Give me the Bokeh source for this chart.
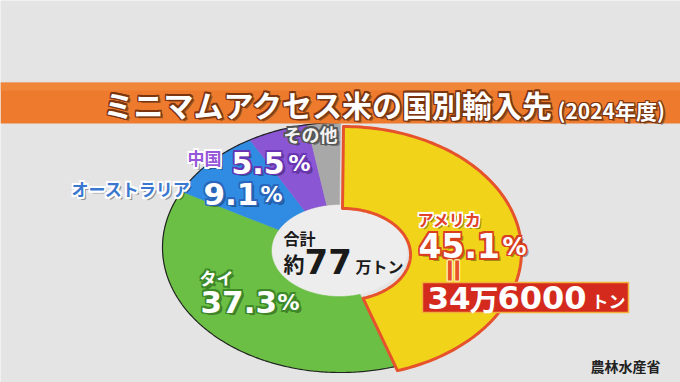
import numpy as np
from bokeh.plotting import figure
from bokeh.models import Range1d
from bokeh.core.properties import value
from bokeh.embed import file_html
from bokeh.resources import INLINE

# ---- data ----
countries = ["アメリカ", "タイ", "オーストラリア", "中国", "その他"]
shares = [45.1, 37.3, 9.1, 5.5, 3.0]
colors = ["#f1d31a", "#6cbf45", "#2f8ce2", "#8a56d3", "#a8a8a8"]
total_man_ton = 77
us_tonnes = 346000
title = "ミニマムアクセス米の国別輸入先"
year_label = "(2024年度)"
source = "農林水産省"

CJK = "Noto Sans CJK JP"
NUM = "DejaVu Sans"

p = figure(width=680, height=382, x_range=Range1d(0, 680), y_range=Range1d(382, 0),
           output_backend="svg", toolbar_location=None, min_border=0)
p.axis.visible = False
p.grid.visible = False
p.outline_line_color = None
p.background_fill_color = "#e4e4e4"
p.border_fill_color = "#e4e4e4"

# ---- donut geometry (layout) ----
cx, cy, rx, ry = 340, 247, 178, 125
hx, hy, hrx, hry = 339, 250, 68, 46
explode = (3, 4)

frac = np.array(shares) / np.sum(shares)
ends = np.cumsum(frac) * 2 * np.pi
starts = np.concatenate([[0], ends[:-1]])


def slice_xy(s, e, off=(0, 0)):
    t = np.linspace(s, e, 120)
    xo = cx + rx * np.sin(t)
    yo = cy - ry * np.cos(t)
    ti = t[::-1]
    xi = hx + hrx * np.sin(ti)
    yi = hy - hry * np.cos(ti)
    return list(np.concatenate([xo, xi]) + off[0]), list(np.concatenate([yo, yi]) + off[1])


# hole
p.ellipse(x=[hx], y=[hy], width=2 * hrx, height=2 * hry, fill_color="#ededed", line_color=None)

xs, ys = [], []
for i in range(1, len(shares)):
    x, y = slice_xy(starts[i], ends[i])
    xs.append(x)
    ys.append(y)
p.patches(xs=xs, ys=ys, fill_color=colors[1:], line_color=colors[1:], line_width=0.5)

t = np.linspace(ends[0], 2 * np.pi, 300)
p.line(x=cx + rx * np.sin(t), y=cy - ry * np.cos(t), line_color="#222222", line_width=1.2)

ux, uy = slice_xy(starts[0], ends[0], explode)
p.patch(x=ux, y=uy, fill_color=colors[0], line_color="#e6522b", line_width=3, line_join="round")

# ---- title bar ----
p.quad(left=[0], right=[680], top=[82], bottom=[123], fill_color="#ee7b2d", line_color=None)
p.quad(left=[0], right=[680], top=[82], bottom=[90], fill_color="#f28d42", line_color=None, fill_alpha=0.6)


def txt(x, y, s, size, font, color, align="left", baseline="middle", angle=0.0,
        dx=0.0, dy=0.0, alpha=1.0):
    p.text(x=[x], y=[y], text=[s], text_font=value(font), text_font_size=f"{size}px",
           text_font_style="bold", text_color=color, text_align=align,
           text_baseline=baseline, angle=angle, x_offset=dx, y_offset=dy, text_alpha=alpha)


def outlined(x, y, s, size, font, fill, stroke, sw=1.6, align="left", baseline="middle",
             angle=0.0, shadow=True):
    if shadow:
        txt(x, y, s, size, font, "#000000", align, baseline, angle, sw + 1.2, sw + 1.2, 0.35)
    for ddx, ddy in [(-sw, 0), (sw, 0), (0, -sw), (0, sw), (-sw, -sw), (sw, sw), (-sw, sw), (sw, -sw)]:
        txt(x, y, s, size, font, stroke, align, baseline, angle, ddx, ddy)
    txt(x, y, s, size, font, fill, align, baseline, angle)


outlined(103, 103, title, 30, CJK, "#ffffff", "#7a3510", sw=1.2)
outlined(557, 109, year_label, 21, CJK, "#ffffff", "#7a3510", sw=1.0)

# ---- labels ----
pct = [f"{v:.1f}" for v in shares]

outlined(337, 133, countries[4], 18, CJK, "#f2f2f2", "#555555", align="right")

outlined(187, 157, countries[3], 17, CJK, "#9657d8", "#ffffff")
outlined(231, 162, pct[3], 30, NUM, "#ffffff", "#6a35b5")
outlined(310, 163, "%", 22, NUM, "#ffffff", "#6a35b5", align="right")

outlined(71, 188, countries[2], 17, CJK, "#3a78d0", "#ffffff")
outlined(203, 193, pct[2], 31, NUM, "#ffffff", "#2a66bb")
outlined(282, 194, "%", 22, NUM, "#ffffff", "#2a66bb", align="right")

outlined(199, 277, countries[1], 17, CJK, "#ffffff", "#3d8a28")
outlined(200, 301, pct[1], 31, NUM, "#ffffff", "#3d8a28")
outlined(299, 302, "%", 22, NUM, "#ffffff", "#3d8a28", align="right")

outlined(417, 218, countries[0], 16, CJK, "#e2432a", "#ffffff")
outlined(418, 245, pct[0], 33, NUM, "#ffffff", "#d8401f")
outlined(526, 246, "%", 24, NUM, "#ffffff", "#d8401f", align="right")
outlined(452, 270, "=", 32, NUM, "#e8502a", "#fff3b0", sw=1.0, align="center", angle=np.pi / 2,
         shadow=False)

# red box with US tonnage
p.quad(left=[422], right=[628], top=[282], bottom=[312], fill_color="#d42a1e",
       line_color="#f2b23a", line_width=1.5)
man = us_tonnes // 10000
rest = us_tonnes % 10000
txt(427, 297, f"{man}", 31, NUM, "#ffffff")
txt(469, 297, "万", 29, CJK, "#ffffff")
txt(497, 297, f"{rest}", 32, NUM, "#ffffff")
txt(591, 300, "トン", 17, CJK, "#ffffff")

# centre total
txt(283, 237, "合計", 16, CJK, "#1a1a1a")
txt(283, 262, "約", 21, CJK, "#1a1a1a")
txt(304, 261, f"{total_man_ton}", 34, NUM, "#1a1a1a")
txt(355, 265, "万トン", 16, CJK, "#1a1a1a")

txt(590, 365, source, 14, CJK, "#222222")

open("out.html", "w").write(file_html(p, INLINE))
